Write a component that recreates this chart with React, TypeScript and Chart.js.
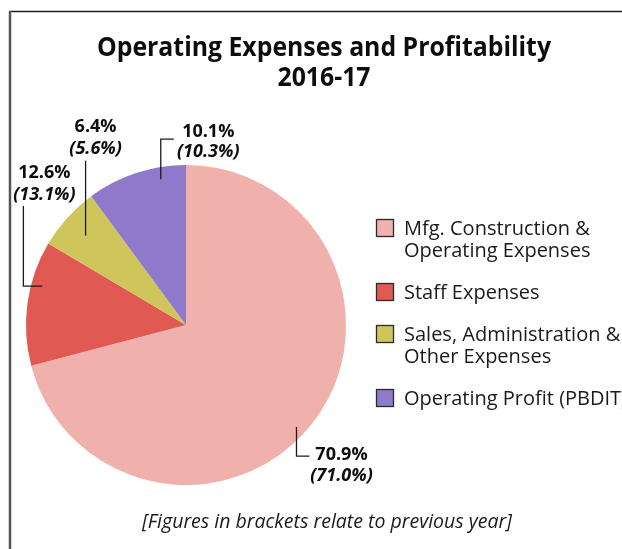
import React, { useEffect, useRef } from "react";
import { Chart, registerables } from "chart.js";

Chart.register(...registerables);

const categories = [
  "Mfg. Construction & Operating Expenses",
  "Staff Expenses",
  "Sales, Administration & Other Expenses",
  "Operating Profit (PBDIT)",
];
const legendLines = [
  ["Mfg. Construction &", "Operating Expenses"],
  ["Staff Expenses"],
  ["Sales, Administration &", "Other Expenses"],
  ["Operating Profit (PBDIT)"],
];
const currentYear = [70.9, 12.6, 6.4, 10.1];
const previousYear = [71.0, 13.1, 5.6, 10.3];
const sliceColors = ["#F0B1AD", "#E05A53", "#CEC65A", "#8F79CB"];
const titleLines = ["Operating Expenses and Profitability", "2016-17"];
const footnote = "[Figures in brackets relate to previous year]";

// leader layout per slice: t = fraction along arc, rf = radius fraction,
// steps = leader segments, tx/ty1/ty2 = text offsets from leader end
const leaderLayout = [
  { t: 0.52, rf: 0.94, steps: [[0, 29], [13, 0]], tx: 32, ty1: 4, ty2: 25 },
  { t: 0.66, rf: 0.93, steps: [[-19, 0], [0, -80]], tx: 21, ty1: -28, ty2: -6 },
  { t: 0.48, rf: 0.84, steps: [[0, -75]], tx: 10, ty1: -29, ty2: -7 },
  { t: 0.73, rf: 0.925, steps: [[0, -40], [13, 0]], tx: 34.5, ty1: -2, ty2: 18 },
];

const FONT = "'Open Sans', 'Noto Sans', sans-serif";

const decorPlugin = {
  id: "decor",
  beforeDraw(chart: any) {
    const ctx = chart.ctx;
    const W = chart.width;
    const H = chart.height;
    ctx.save();
    ctx.fillStyle = "#ffffff";
    ctx.fillRect(0, 0, W, H);
    // frame
    ctx.strokeStyle = "#1e1e1e";
    ctx.lineWidth = 1.5;
    ctx.beginPath();
    ctx.moveTo(9, 11.5);
    ctx.lineTo(W, 11.5);
    ctx.stroke();
    ctx.strokeStyle = "#555555";
    ctx.lineWidth = 2.5;
    ctx.beginPath();
    ctx.moveTo(10, 11);
    ctx.lineTo(10, H);
    ctx.stroke();
    // title
    ctx.fillStyle = "#0d0d0d";
    ctx.textAlign = "center";
    ctx.textBaseline = "alphabetic";
    ctx.font = `700 26px ${FONT}`;
    const titleBase = [56, 86];
    const w = ctx.measureText(titleLines[0]).width;
    titleLines.forEach((line, i) => {
      ctx.save();
      ctx.translate(324, titleBase[i]);
      ctx.scale(454 / w, 1);
      ctx.fillText(line, 0, 0);
      ctx.restore();
    });
    // footnote
    ctx.font = `italic 400 19.5px ${FONT}`;
    ctx.fillStyle = "#1a1a1a";
    ctx.fillText(footnote, 327, 528);
    ctx.restore();
  },
  afterDatasetsDraw(chart: any) {
    const ctx = chart.ctx;
    const meta = chart.getDatasetMeta(0);
    ctx.save();
    // leader lines and labels
    meta.data.forEach((arc: any, i: number) => {
      const p = arc.getProps(["x", "y", "startAngle", "endAngle", "outerRadius"], true);
      const L = leaderLayout[i];
      const a = p.startAngle + L.t * (p.endAngle - p.startAngle);
      let px = p.x + Math.cos(a) * p.outerRadius * L.rf;
      let py = p.y + Math.sin(a) * p.outerRadius * L.rf;
      ctx.strokeStyle = "#1a1a1a";
      ctx.lineWidth = 1.3;
      ctx.beginPath();
      ctx.moveTo(px, py);
      L.steps.forEach(([dx, dy]) => {
        px += dx;
        py += dy;
        ctx.lineTo(px, py);
      });
      ctx.stroke();
      ctx.fillStyle = "#0d0d0d";
      ctx.textAlign = "center";
      ctx.textBaseline = "alphabetic";
      ctx.font = `700 18px ${FONT}`;
      ctx.fillText(`${currentYear[i].toFixed(1)}%`, px + L.tx, py + L.ty1);
      ctx.font = `italic 700 18px ${FONT}`;
      ctx.fillText(`(${previousYear[i].toFixed(1)}%)`, px + L.tx, py + L.ty2);
    });
    // legend
    const boxX = 376.5;
    const box = 17;
    const textX = 404;
    const lineH = 22;
    const itemGap = 20;
    let yc = 228;
    ctx.font = `400 20px ${FONT}`;
    ctx.textAlign = "left";
    ctx.textBaseline = "alphabetic";
    legendLines.forEach((lines, i) => {
      ctx.fillStyle = sliceColors[i];
      ctx.fillRect(boxX, yc - box / 2, box, box);
      ctx.strokeStyle = "#2a2a2a";
      ctx.lineWidth = 1.3;
      ctx.strokeRect(boxX, yc - box / 2, box, box);
      ctx.fillStyle = "#1a1a1a";
      lines.forEach((ln, j) => {
        ctx.fillText(ln, textX, yc + 7 + j * lineH);
      });
      yc += lines.length * lineH + itemGap;
    });
    ctx.restore();
  },
};

export default function App() {
  const ref = useRef<HTMLCanvasElement | null>(null);
  useEffect(() => {
    if (!ref.current) return;
    const chart = new Chart(ref.current, {
      type: "pie",
      data: {
        labels: categories,
        datasets: [
          {
            data: currentYear,
            backgroundColor: sliceColors,
            borderWidth: 0,
          },
        ],
      },
      options: {
        responsive: false,
        animation: false,
        layout: { padding: { left: 26, right: 276, top: 165, bottom: 64 } },
        plugins: {
          legend: { display: false },
          title: { display: false },
          tooltip: { enabled: false },
        },
      },
      plugins: [decorPlugin],
    });
    return () => chart.destroy();
  }, []);
  return (
    <div style={{ position: "fixed", left: 0, top: 0, width: 622, height: 549, overflow: "hidden" }}>
      <canvas ref={ref} width={622} height={549} style={{ display: "block" }} />
    </div>
  );
}
